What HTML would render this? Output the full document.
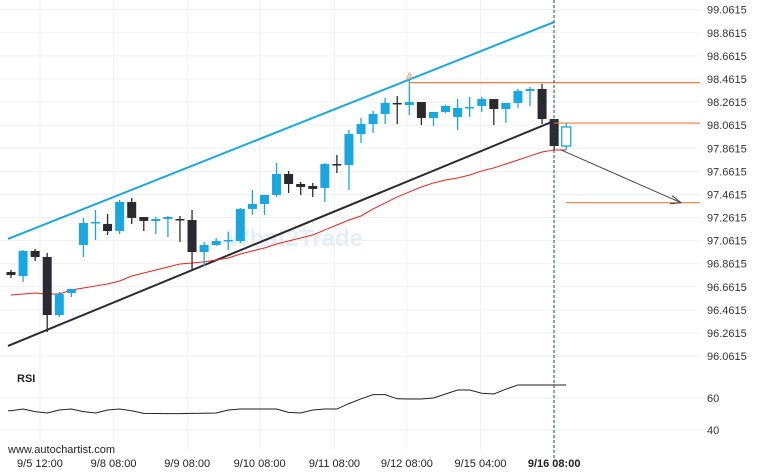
<!DOCTYPE html>
<html><head><meta charset="utf-8"><style>
html,body{margin:0;padding:0;background:#fff;}
svg{display:block;font-family:"Liberation Sans",sans-serif;}
</style></head><body>
<svg id="chart" width="760" height="475" viewBox="0 0 760 475" xmlns="http://www.w3.org/2000/svg">
<g id="grid"></g>
<text x="295" y="246" font-size="24" font-weight="bold" fill="#e4eef6" text-anchor="middle">What2Trade</text>
<g id="marks"></g>
<g id="axes"></g>
<text x="17" y="382" font-size="11" font-weight="bold" fill="#222">RSI</text>
<text x="8" y="453" font-size="11" fill="#222">www.autochartist.com</text>
</svg>
<script>
const opens=[96.79,96.755,96.972,96.92,96.417,96.608,97.024,97.214,97.206,97.145,97.396,97.266,97.232,97.249,97.249,97.24,96.963,97.024,97.058,97.058,97.336,97.379,97.457,97.639,97.552,97.535,97.518,97.725,97.717,97.985,98.072,98.159,98.254,98.236,98.262,98.124,98.176,98.133,98.211,98.228,98.288,98.202,98.254,98.358,98.375,98.115,97.881];
const highs=[96.807,96.98,96.989,96.954,96.617,96.643,97.258,97.327,97.292,97.414,97.431,97.266,97.266,97.275,97.275,97.327,97.05,97.084,97.136,97.344,97.50,97.457,97.734,97.665,97.57,97.561,97.734,97.803,98.02,98.124,98.185,98.297,98.314,98.453,98.262,98.176,98.236,98.288,98.306,98.306,98.288,98.254,98.375,98.392,98.418,98.115,98.081];
const lows=[96.738,96.703,96.885,96.27,96.40,96.573,96.92,97.067,97.11,97.119,97.205,97.145,97.119,97.093,97.05,96.799,96.842,97.015,96.98,97.041,97.284,97.284,97.44,97.474,97.457,97.44,97.396,97.647,97.50,97.907,97.994,98.072,98.072,98.15,98.063,98.055,98.167,98.02,98.133,98.176,98.063,98.081,98.211,98.228,98.072,97.847,97.847];
const closes=[96.764,96.972,96.92,96.417,96.599,96.643,97.214,97.223,97.145,97.396,97.258,97.232,97.249,97.266,97.24,96.963,97.024,97.058,97.067,97.336,97.379,97.457,97.639,97.552,97.526,97.509,97.725,97.717,97.985,98.072,98.159,98.254,98.245,98.262,98.124,98.176,98.228,98.211,98.219,98.288,98.202,98.254,98.358,98.375,98.115,97.881,98.046];
const maValues=[96.591,96.599,96.608,96.599,96.599,96.634,96.651,96.669,96.686,96.712,96.755,96.781,96.807,96.833,96.859,96.868,96.877,96.894,96.911,96.946,96.972,96.998,97.032,97.058,97.084,97.11,97.154,97.197,97.24,97.275,97.336,97.388,97.44,97.483,97.526,97.561,97.587,97.604,97.63,97.665,97.691,97.725,97.76,97.795,97.829,97.847,97.847];
const rsiValues=[52,53.1,51.5,50.6,52.5,53.1,51.5,50.6,52.5,53.1,52,50.4,50.3,50.2,50.2,50.4,50.5,50.6,52.5,53.1,53.1,53.1,53.1,51,50.6,52.5,53.1,53.1,56.5,59.5,62.1,62.1,59.5,59.4,59.4,60,62.5,65,65,63,62.5,65.5,68.1,68.1,68.1,68.1,68.1];
const priceTicks=[99.0615,98.8615,98.6615,98.4615,98.2615,98.0615,97.8615,97.6615,97.4615,97.2615,97.0615,96.8615,96.6615,96.4615,96.2615,96.0615];
const rsiTicks=[60,40];
const timeLabels=["9/5 12:00","9/8 08:00","9/9 08:00","9/10 08:00","9/11 08:00","9/12 08:00","9/15 04:00","9/16 08:00"];
const timeLabelIdx=[2.4,8.5,14.6,20.6,26.8,32.8,38.9,45];
const upperChannel=[[-0.25,97.076],[45,98.955]];
const lowerChannel=[[-0.25,96.149],[45,98.098]];
const resistanceLevel=98.43;
const breakLevel=98.08;
const targetLevel=97.39;

const NS="http://www.w3.org/2000/svg";
const xS=i=>11+i*12.07;
const yS=p=>79+(98.4615-p)*115.45;
const rS=v=>398+(60-v)*1.6;
function mk(tag,attrs,parent){const e=document.createElementNS(NS,tag);for(const k in attrs)e.setAttribute(k,attrs[k]);parent.appendChild(e);return e;}
const grid=document.getElementById('grid'),marks=document.getElementById('marks'),axes=document.getElementById('axes');

priceTicks.forEach(t=>{
  const l=mk('line',{x1:0,x2:700,y1:yS(t),y2:yS(t),stroke:'#f0f0f0','stroke-width':1},grid);
  
  
  const tx=mk('text',{x:707,y:yS(t)+4,'font-size':11,fill:'#333'},axes);tx.textContent=t.toFixed(4);
  
  
});
rsiTicks.forEach(t=>{
  const l=mk('line',{x1:0,x2:705,y1:rS(t),y2:rS(t),stroke:'#ececec','stroke-width':1},grid);
  
  
  const tx=mk('text',{x:707,y:rS(t)+4,'font-size':11,fill:'#333'},axes);tx.textContent=t;
  
  
});
timeLabels.forEach((s,k)=>{
  const x=xS(timeLabelIdx[k]);
  const l=mk('line',{x1:x,x2:x,y1:0,y2:450,stroke:'#f2f2f2','stroke-width':1},grid);
  
  
  const tx=mk('text',{x:x,y:467,'font-size':11,fill:'#222','text-anchor':'middle','font-weight':k==timeLabels.length-1?'bold':'normal'},axes);tx.textContent=s;
  
  
});

// channel lines
const up=mk('line',{x1:xS(upperChannel[0][0]),y1:yS(upperChannel[0][1]),x2:xS(upperChannel[1][0]),y2:yS(upperChannel[1][1]),stroke:'#1aa7e0','stroke-width':2},marks);


const lo=mk('line',{x1:xS(lowerChannel[0][0]),y1:yS(lowerChannel[0][1]),x2:xS(lowerChannel[1][0]),y2:yS(lowerChannel[1][1]),stroke:'#2a2a30','stroke-width':2},marks);



// MA
const ma=mk('polyline',{points:maValues.map((v,i)=>xS(i)+','+yS(v)).join(' '),fill:'none',stroke:'#e8231e','stroke-width':1},marks);



// candles
opens.forEach((o,i)=>{
  const c=closes[i],x=xS(i),bull=c>=o,last=i==opens.length-1;
  const col=bull?'#1aa7e0':'#2a2a30';
  const w=mk('line',{x1:x,x2:x,y1:yS(highs[i]),y2:yS(lows[i]),stroke:col,'stroke-width':1.3},marks);
  
  
  const top=yS(Math.max(o,c)),h=Math.max(1.5,Math.abs(yS(o)-yS(c)));
  const b=mk('rect',{x:x-4.5,y:top,width:9,height:h,fill:last?'#fff':col,stroke:last?col:'none','stroke-width':1.3},marks);
  
  
});

// levels
const n=opens.length;
const res=mk('line',{x1:xS(33),x2:700,y1:yS(resistanceLevel),y2:yS(resistanceLevel),stroke:'#f57c3c','stroke-width':1.2},marks);


const aL=mk('text',{x:xS(33),y:yS(resistanceLevel)-3,'font-size':10,fill:'#f59a6a','text-anchor':'middle'},marks);aL.textContent='A';


const br=mk('line',{x1:xS(45),x2:700,y1:yS(breakLevel),y2:yS(breakLevel),stroke:'#f57c3c','stroke-width':1.2},marks);


const tg=mk('line',{x1:566,x2:700,y1:yS(targetLevel),y2:yS(targetLevel),stroke:'#f57c3c','stroke-width':1.2},marks);


const ax1=xS(45)+6,ay1=yS(97.85),ax2=681,ay2=yS(targetLevel);
const ar=mk('line',{x1:ax1,y1:ay1,x2:ax2,y2:ay2,stroke:'#444','stroke-width':1},marks);


const ah=mk('polyline',{points:(ax2-9)+','+(ay2-7)+' '+ax2+','+ay2+' '+(ax2-11)+','+(ay2+1),fill:'none',stroke:'#444','stroke-width':1},marks);



// RSI
const rl=mk('polyline',{points:[[8,rsiValues[0]]].concat(rsiValues.map((v,i)=>[xS(i),v])).map(p=>p[0]+','+rS(p[1])).join(' '),fill:'none',stroke:'#222','stroke-width':1},marks);



// current time dashed line
const dl=mk('line',{x1:554,x2:554,y1:0,y2:458,stroke:'#1a4a5a','stroke-width':1,'stroke-dasharray':'3,2'},marks);


</script>
</body></html>
